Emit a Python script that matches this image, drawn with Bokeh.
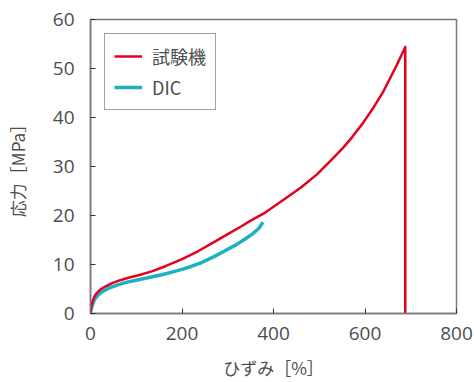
from bokeh.plotting import figure
from bokeh.models import FixedTicker, Range1d, Legend, LegendItem
from bokeh.embed import file_html
from bokeh.resources import INLINE

# Testing machine (試験機) stress-strain curve
machine_strain = [0, 1, 3, 6, 10, 15, 22, 32, 47, 65, 83, 105, 134, 165, 200, 235, 265, 300, 330,
                  349, 382, 422, 460, 495, 525, 553, 572, 595, 619, 640, 652, 670, 688, 688]
machine_stress = [0, 1.0, 2.0, 2.9, 3.7, 4.3, 4.9, 5.5, 6.2, 6.8, 7.3, 7.8, 8.6, 9.7, 11.1, 12.7, 14.3,
                  16.2, 17.8, 18.9, 20.6, 23.2, 25.7, 28.4, 31.2, 33.9, 36.0, 38.8, 42.1, 45.3, 47.5,
                  50.8, 54.4, 0]

# DIC curve
dic_strain = [0, 1, 3, 6, 10, 16, 25, 40, 61, 80, 105, 130, 156, 180, 200, 220, 243, 270, 294,
              318, 338, 355, 368, 377]
dic_stress = [0, 0.6, 1.4, 2.3, 3.0, 3.7, 4.4, 5.2, 5.9, 6.4, 6.9, 7.4, 7.9, 8.5, 9.0, 9.6, 10.4,
              11.6, 12.8, 14.0, 15.2, 16.3, 17.4, 18.6]

x_ticks = [0, 200, 400, 600, 800]
y_ticks = [0, 10, 20, 30, 40, 50, 60]

FONT = "Noto Sans CJK JP"
NUM_FONT = "Open Sans"
TXT = "#4d4d4d"
AX = "#7a7a7a"

p = figure(width=474, height=382, output_backend="svg", toolbar_location=None,
           x_range=Range1d(0, 800), y_range=Range1d(0, 60),
           min_border_left=90, min_border_right=18, min_border_top=19, min_border_bottom=67)
p.grid.visible = False
p.outline_line_color = AX
p.outline_line_width = 1.5
p.background_fill_color = "white"
p.border_fill_color = "white"

r_dic = p.line(dic_strain, dic_stress, line_color="#19B2BE", line_width=3.5, line_join="round")
r_m = p.line(machine_strain, machine_stress, line_color="#E5001F", line_width=2.5, line_join="round")

for ax in (p.xaxis[0], p.yaxis[0]):
    ax.axis_line_color = AX
    ax.axis_line_width = 1.5
    ax.major_tick_in = 5
    ax.major_tick_out = 0
    ax.major_tick_line_color = "#333333"
    ax.minor_tick_line_color = None
    ax.major_label_text_font = NUM_FONT
    ax.major_label_text_font_size = "19px"
    ax.major_label_text_color = TXT
    ax.axis_label_text_font = FONT
    ax.axis_label_text_font_size = "17px"
    ax.axis_label_text_color = TXT
    ax.axis_label_text_font_style = "normal"

p.xaxis[0].ticker = FixedTicker(ticks=x_ticks)
p.yaxis[0].ticker = FixedTicker(ticks=y_ticks)
p.xaxis[0].major_label_standoff = 13
p.yaxis[0].major_label_standoff = 16
p.xaxis[0].axis_label = "ひずみ［%］"
p.yaxis[0].axis_label = "応力［MPa］"
p.xaxis[0].axis_label_standoff = 12
p.yaxis[0].axis_label_standoff = 20

legend = Legend(items=[LegendItem(label="試験機", renderers=[r_m]),
                       LegendItem(label="DIC", renderers=[r_dic])],
                location="top_left")
legend.margin = 14
legend.padding = 9
legend.spacing = 5
legend.glyph_width = 28
legend.glyph_height = 20
legend.label_height = 20
legend.label_standoff = 10
legend.label_text_font = FONT
legend.label_text_font_size = "18px"
legend.label_text_color = TXT
legend.border_line_color = "#444444"
legend.border_line_width = 1.2
legend.background_fill_alpha = 1
p.add_layout(legend)

open("out.html", "w").write(file_html(p, INLINE))
